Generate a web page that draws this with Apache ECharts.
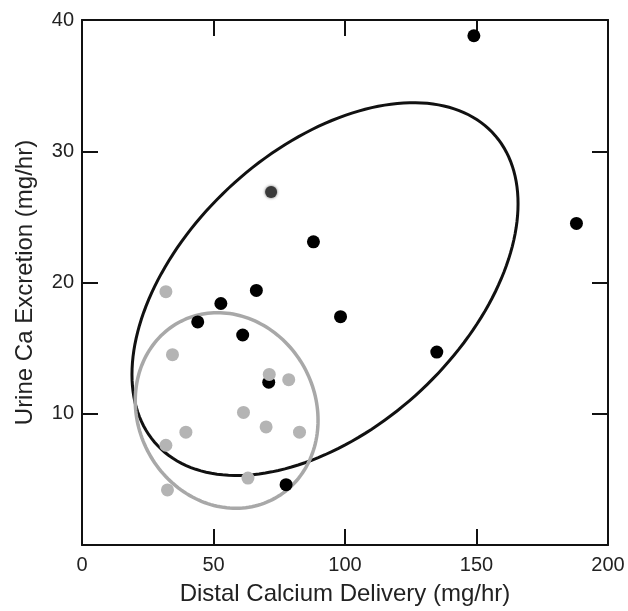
<!DOCTYPE html>
<html>
<head>
<meta charset="utf-8">
<script src="https://cdn.jsdelivr.net/npm/echarts@6/dist/echarts.min.js"></script>
<style>html,body{margin:0;padding:0;background:#fff}#c{width:628px;height:611px}</style>
</head>
<body>
<div id="c"></div>
<script>
// Data
const blackX = [149, 188, 88, 66.3, 52.8, 44, 98.3, 61.1, 134.9, 71.0, 77.6];
const blackY = [38.8, 24.5, 23.1, 19.4, 18.4, 17.0, 17.4, 16.0, 14.7, 12.4, 4.6];
const darkX = [71.9];
const darkY = [26.9];
const grayX = [31.9, 34.4, 71.2, 78.6, 61.4, 39.5, 70.0, 82.7, 31.9, 63.1, 32.5];
const grayY = [19.3, 14.5, 13.0, 12.6, 10.1, 8.6, 9.0, 8.6, 7.6, 5.1, 4.2];
// Ellipse parameters: [centerX, centerY, halfWidthX, halfHeightY, cosPhase]
const blackEllipse = [92.4, 19.5, 73.4, 14.2, 0.458];
const grayEllipse = [55.0, 10.25, 34.75, 7.45, -0.1];
const xTicks = [0, 50, 100, 150, 200];
const yTicks = [0, 10, 20, 30, 40];

const pairs = (xs, ys) => xs.map((x, i) => [x, ys[i]]);
const font = '"Liberation Sans", Arial, Helvetica, sans-serif';

function ellipseSeries(p, color, width) {
  return {
    type: 'custom',
    xAxisIndex: 0, yAxisIndex: 0,
    silent: true, z: 2,
    data: [[p[0], p[1]]],
    renderItem: function (params, api) {
      const d = Math.acos(p[4]);
      const pts = [];
      for (let i = 0; i <= 180; i++) {
        const t = i / 180 * Math.PI * 2;
        pts.push(api.coord([p[0] + p[2] * Math.cos(t), p[1] + p[3] * Math.cos(t - d)]));
      }
      return { type: 'polyline', shape: { points: pts }, style: { fill: null, stroke: color, lineWidth: width } };
    }
  };
}

const axisCommon = {
  axisLine: { show: true, onZero: false, lineStyle: { color: '#111', width: 2 } },
  axisTick: { show: true, inside: true, length: 16, lineStyle: { color: '#111', width: 2 } },
  splitLine: { show: false }
};

const chart = echarts.init(document.getElementById('c'));
chart.setOption({
  animation: false,
  backgroundColor: '#fff',
  grid: { left: 82, right: 20, top: 20, bottom: 66 },
  xAxis: [
    Object.assign({}, axisCommon, {
      type: 'value', min: xTicks[0], max: xTicks[xTicks.length - 1], interval: 50, position: 'bottom',
      name: 'Distal Calcium Delivery (mg/hr)', nameLocation: 'middle', nameGap: 37,
      nameTextStyle: { fontFamily: font, fontSize: 24, color: '#222' },
      axisLabel: { fontFamily: font, fontSize: 20, color: '#222', margin: 10 }
    }),
    Object.assign({}, axisCommon, {
      type: 'value', min: xTicks[0], max: xTicks[xTicks.length - 1], interval: 50, position: 'top',
      axisLabel: { show: false }
    })
  ],
  yAxis: [
    Object.assign({}, axisCommon, {
      type: 'value', min: yTicks[0], max: yTicks[yTicks.length - 1], interval: 10, position: 'left',
      name: 'Urine Ca Excretion (mg/hr)', nameLocation: 'middle', nameGap: 45,
      nameTextStyle: { fontFamily: font, fontSize: 24, color: '#222' },
      axisLabel: { fontFamily: font, fontSize: 20, color: '#222', margin: 8, showMinLabel: false }
    }),
    Object.assign({}, axisCommon, {
      type: 'value', min: yTicks[0], max: yTicks[yTicks.length - 1], interval: 10, position: 'right',
      axisLabel: { show: false }
    })
  ],
  series: [
    ellipseSeries(blackEllipse, '#111', 3),
    ellipseSeries(grayEllipse, '#a8a8a8', 3.5),
    { type: 'scatter', data: pairs(blackX, blackY), symbolSize: 13, itemStyle: { color: '#000', opacity: 1 }, z: 3 },
    { type: 'scatter', data: pairs(darkX, darkY), symbolSize: 12, itemStyle: { color: '#3a3a3a', opacity: 1, shadowBlur: 3, shadowColor: '#666' }, z: 3 },
    { type: 'scatter', data: pairs(grayX, grayY), symbolSize: 13, itemStyle: { color: '#b4b4b4', opacity: 1 }, z: 4 }
  ]
});
</script>
</body>
</html>
